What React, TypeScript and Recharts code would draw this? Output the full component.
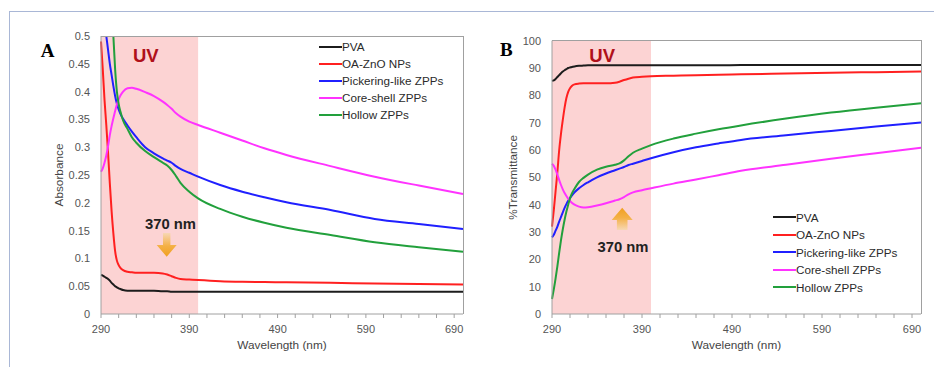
import React from 'react';
import { LineChart, Line, XAxis, YAxis, ReferenceArea, ReferenceDot, Legend, Label } from 'recharts';

// ---------- DATA ----------
const wavelengths = [290, 292, 294, 296, 298, 300, 302, 304, 306, 308, 310, 312, 315, 320, 325, 330, 340, 350, 360, 365, 370, 375, 380, 390, 400, 425, 450, 475, 500, 550, 600, 650, 700];

// Panel A: Absorbance
const absPVA = [0.070, 0.069, 0.067, 0.065, 0.063, 0.060, 0.056, 0.053, 0.050, 0.048, 0.046, 0.045, 0.043, 0.042, 0.042, 0.042, 0.042, 0.042, 0.041, 0.041, 0.040, 0.040, 0.040, 0.040, 0.040, 0.040, 0.040, 0.040, 0.040, 0.040, 0.040, 0.040, 0.040];
const absZnO = [0.49, 0.44, 0.385, 0.34, 0.29, 0.235, 0.185, 0.145, 0.113, 0.096, 0.088, 0.083, 0.079, 0.076, 0.075, 0.074, 0.074, 0.074, 0.073, 0.071, 0.068, 0.065, 0.063, 0.062, 0.061, 0.059, 0.058, 0.0575, 0.057, 0.056, 0.055, 0.054, 0.053];
const absPickering = [null, null, null, 0.5, 0.475, 0.45, 0.43, 0.41, 0.392, 0.378, 0.368, 0.36, 0.351, 0.339, 0.328, 0.318, 0.300, 0.289, 0.280, 0.276, 0.272, 0.266, 0.261, 0.254, 0.247, 0.232, 0.220, 0.210, 0.201, 0.187, 0.171, 0.162, 0.153];
const absCoreShell = [0.256, 0.262, 0.272, 0.285, 0.302, 0.322, 0.338, 0.352, 0.365, 0.377, 0.386, 0.393, 0.400, 0.406, 0.407, 0.405, 0.399, 0.392, 0.382, 0.376, 0.369, 0.361, 0.355, 0.346, 0.340, 0.326, 0.312, 0.298, 0.286, 0.266, 0.247, 0.231, 0.216];
const absHollow = [null, null, null, null, null, null, null, 0.5, 0.44, 0.40, 0.378, 0.364, 0.348, 0.333, 0.318, 0.308, 0.293, 0.282, 0.272, 0.267, 0.259, 0.248, 0.236, 0.220, 0.208, 0.189, 0.175, 0.164, 0.155, 0.142, 0.129, 0.120, 0.112];

// Panel B: %Transmittance
const transPVA = [85.3, 85.5, 86, 86.7, 87.4, 88.1, 88.7, 89.2, 89.6, 90.0, 90.2, 90.4, 90.6, 90.8, 90.9, 91.0, 91.0, 91.0, 91.0, 91.0, 91.0, 91.0, 91.0, 91.0, 91.0, 91.0, 91.0, 91.0, 91.1, 91.1, 91.1, 91.1, 91.1];
const transZnO = [32, 38, 45, 52, 60, 66, 71, 75.5, 79, 81.3, 82.6, 83.4, 84, 84.3, 84.4, 84.4, 84.4, 84.4, 84.6, 85, 85.6, 86.1, 86.5, 86.8, 87.0, 87.2, 87.4, 87.5, 87.7, 88.0, 88.3, 88.5, 88.7];
const transPickering = [28, 29, 30.5, 32, 33.8, 35.5, 37.2, 38.8, 40.2, 41.4, 42.4, 43.3, 44.5, 46, 47.2, 48.2, 50, 51.4, 52.6, 53.2, 53.8, 54.5, 55, 56, 57, 59.2, 61, 62.4, 63.7, 65.4, 67, 68.6, 70.1];
const transCoreShell = [55, 54.2, 52.8, 51, 49, 47.2, 45.6, 44.3, 43.2, 42.2, 41.4, 40.7, 40.0, 39.3, 39.0, 39.1, 39.7, 40.5, 41.5, 42.0, 42.8, 43.8, 44.5, 45.3, 46, 47.7, 49.2, 50.8, 52.4, 54.6, 56.8, 58.8, 60.8];
const transHollow = [5.5, 9, 13, 17.5, 22.5, 27, 31, 34.5, 37.5, 40, 42.3, 44, 45.8, 48.3, 49.8, 51, 52.8, 53.9, 54.6, 55.1, 56.2, 57.7, 59, 60.5, 61.8, 64.2, 66, 67.6, 69, 71.5, 73.7, 75.5, 77.1];

const seriesNames = ['PVA', 'OA-ZnO NPs', 'Pickering-like ZPPs', 'Core-shell ZPPs', 'Hollow ZPPs'];
const seriesKeys = ['pva', 'zno', 'pick', 'core', 'hollow'];
const seriesColors = ['#1c1c1c', '#ff2020', '#2020ff', '#ff33ff', '#22a03c'];

const xTicks = [290, 310, 330, 350, 370, 390, 410, 430, 450, 470, 490, 510, 530, 550, 570, 590, 610, 630, 650, 670, 690];
const xLabelTicks = [290, 390, 490, 590, 690];
const absTicks = [0, 0.05, 0.1, 0.15, 0.2, 0.25, 0.3, 0.35, 0.4, 0.45, 0.5];
const transTicks = [0, 10, 20, 30, 40, 50, 60, 70, 80, 90, 100];

const xDomain: [number, number] = [290, 700];
const uvRange = [290, 400];
const markerLabel = '370 nm';

// ---------- BUILD ----------
const buildRows = (series: (number | null)[][]) =>
  wavelengths.map((w, i) => {
    const row: any = { w };
    seriesKeys.forEach((k, j) => {
      row[k] = series[j][i];
    });
    return row;
  });

const rowsA = buildRows([absPVA, absZnO, absPickering, absCoreShell, absHollow]);
const rowsB = buildRows([transPVA, transZnO, transPickering, transCoreShell, transHollow]);

const FONT = '"Liberation Sans", Arial, Helvetica, sans-serif';
const X_AXIS_H = 46;
const CHART_H = 352;

// layout of the two panels (container coordinates)
const layoutA = { left: 0, width: 470, margin: { top: 28, right: 15, bottom: 0, left: 0 }, yAxisWidth: 93 };
const layoutB = { left: 470, width: 464, margin: { top: 32.7, right: 21, bottom: 0, left: 0 }, yAxisWidth: 74 };

const plotBox = (l: typeof layoutA) => ({
  x1: l.left + l.margin.left + l.yAxisWidth,
  x2: l.left + l.width - l.margin.right,
  y1: l.margin.top,
  y2: CHART_H - l.margin.bottom - X_AXIS_H,
});

const makeLegend = (rowH: number) => (props: any) => {
  const payload = [...(props.payload || [])].sort(
    (a: any, b: any) => seriesNames.indexOf(a.value) - seriesNames.indexOf(b.value)
  );
  return (
    <div style={{ fontFamily: FONT, fontSize: 11.7, color: '#2b2b2b' }}>
      {payload.map((p: any, i: number) => (
        <div key={i} style={{ display: 'flex', alignItems: 'center', height: rowH, whiteSpace: 'nowrap' }}>
          <span style={{ display: 'inline-block', width: 23, height: 2, background: p.color }} />
          <span>{p.value}</span>
        </div>
      ))}
    </div>
  );
};

const UVShape = (props: any) => (
  <text x={props.cx} y={props.cy} textAnchor="middle" fontFamily={FONT} fontWeight="bold" fontSize={18.5} fill="#b0101a">
    UV
  </text>
);

const ArrowDown = (props: any) => {
  const { cx, cy } = props;
  const d = `M ${cx - 3.7} ${cy - 23.7} L ${cx + 3.7} ${cy - 23.7} L ${cx + 3.7} ${cy - 11.7} L ${cx + 10} ${cy - 11.7} L ${cx} ${cy} L ${cx - 10} ${cy - 11.7} L ${cx - 3.7} ${cy - 11.7} Z`;
  return (
    <g>
      <defs>
        <linearGradient id="arrowGradA" x1="0" y1="0" x2="0" y2="1">
          <stop offset="0%" stopColor="#f7d7b4" />
          <stop offset="55%" stopColor="#f4b045" />
          <stop offset="100%" stopColor="#f0a020" />
        </linearGradient>
      </defs>
      <path d={d} fill="url(#arrowGradA)" />
      <text x={cx + 3.8} y={cy - 27.4} textAnchor="middle" fontFamily={FONT} fontWeight="bold" fontSize={14.8} fill="#222">
        {markerLabel}
      </text>
    </g>
  );
};

const ArrowUp = (props: any) => {
  const { cx, cy } = props;
  const d = `M ${cx} ${cy} L ${cx + 10.5} ${cy + 12.3} L ${cx + 5.3} ${cy + 12.3} L ${cx + 5.3} ${cy + 22.3} L ${cx - 5.3} ${cy + 22.3} L ${cx - 5.3} ${cy + 12.3} L ${cx - 10.5} ${cy + 12.3} Z`;
  return (
    <g>
      <defs>
        <linearGradient id="arrowGradB" x1="0" y1="0" x2="0" y2="1">
          <stop offset="0%" stopColor="#f0a020" />
          <stop offset="45%" stopColor="#f4b045" />
          <stop offset="100%" stopColor="#f7d7b4" />
        </linearGradient>
      </defs>
      <path d={d} fill="url(#arrowGradB)" />
      <text x={cx + 0.8} y={cy + 44} textAnchor="middle" fontFamily={FONT} fontWeight="bold" fontSize={14.8} fill="#222">
        {markerLabel}
      </text>
    </g>
  );
};

type PanelProps = {
  rows: any[];
  layout: typeof layoutA;
  yDomain: [number, number];
  yTicks: number[];
  yTitle: string;
  yTitleOffset: number;
  legendLeft: number;
  legendTop: number;
  legendRowH: number;
  uvPos: [number, number];
  arrowPos: [number, number];
  arrowShape: any;
};

function Panel(p: PanelProps) {
  return (
    <LineChart width={p.layout.width} height={CHART_H} data={p.rows} margin={p.layout.margin}>
      <ReferenceArea x1={uvRange[0]} x2={uvRange[1]} y1={p.yDomain[0]} y2={p.yDomain[1]} fill="#fcd3d3" fillOpacity={1} stroke="none" />
      <XAxis
        dataKey="w"
        type="number"
        domain={xDomain}
        ticks={xTicks}
        interval={0}
        height={X_AXIS_H}
        tickSize={4}
        tickMargin={7.5}
        stroke="#a0a0a0"
        tick={{ fill: '#555', fontSize: 11, fontFamily: FONT }}
        tickFormatter={(v: number) => (xLabelTicks.includes(v) ? String(v) : '')}
      >
        <Label value="Wavelength (nm)" position="insideBottom" offset={11} fill="#444" fontSize={11.8} fontFamily={FONT} />
      </XAxis>
      <YAxis
        type="number"
        domain={p.yDomain}
        ticks={p.yTicks}
        interval={0}
        allowDataOverflow
        width={p.layout.yAxisWidth}
        tickLine={false}
        tickSize={6}
        tickMargin={5}
        stroke="#a0a0a0"
        tick={{ fill: '#555', fontSize: 11, fontFamily: FONT }}
      >
        <Label
          value={p.yTitle}
          angle={-90}
          position="insideLeft"
          offset={p.yTitleOffset}
          fill="#444"
          fontSize={11.8}
          fontFamily={FONT}
          style={{ textAnchor: 'middle' }}
        />
      </YAxis>
      {seriesKeys.map((k, i) => (
        <Line
          key={k}
          dataKey={k}
          name={seriesNames[i]}
          stroke={seriesColors[i]}
          strokeWidth={2}
          dot={false}
          activeDot={false}
          type="monotone"
          connectNulls={false}
          isAnimationActive={false}
        />
      ))}
      <ReferenceDot x={p.uvPos[0]} y={p.uvPos[1]} shape={UVShape} />
      <ReferenceDot x={p.arrowPos[0]} y={p.arrowPos[1]} shape={p.arrowShape} />
      <Legend
        layout="vertical"
        align="center"
        verticalAlign="middle"
        content={makeLegend(p.legendRowH)}
        wrapperStyle={{ position: 'absolute', left: p.legendLeft, top: p.legendTop, width: 200, height: 'auto' }}
      />
    </LineChart>
  );
}

export default function App() {
  const boxA = plotBox(layoutA);
  const boxB = plotBox(layoutB);
  const framePath = (b: ReturnType<typeof plotBox>) => `M ${b.x1} ${b.y1} L ${b.x2} ${b.y1} L ${b.x2} ${b.y2}`;
  return (
    <div style={{ position: 'relative', width: 934, height: 359, overflow: 'hidden', background: '#fff' }}>
      <div
        style={{
          position: 'absolute',
          left: 1,
          top: 3,
          width: 960,
          height: 400,
          borderTop: '1px solid #a9b7d6',
          borderLeft: '1px solid #a9b7d6',
        }}
      />
      <div style={{ position: 'absolute', left: layoutA.left, top: 0 }}>
        <Panel
          rows={rowsA}
          layout={layoutA}
          yDomain={[0, 0.5]}
          yTicks={absTicks}
          yTitle="Absorbance"
          yTitleOffset={50.5}
          legendLeft={311}
          legendTop={30}
          legendRowH={17}
          uvPos={[340.7, 0.4538]}
          arrowPos={[364.4, 0.103]}
          arrowShape={ArrowDown}
        />
      </div>
      <div style={{ position: 'absolute', left: layoutB.left, top: 0 }}>
        <Panel
          rows={rowsB}
          layout={layoutB}
          yDomain={[0, 100]}
          yTicks={transTicks}
          yTitle="%Transmittance"
          yTitleOffset={35}
          legendLeft={295}
          legendTop={200.5}
          legendRowH={17.5}
          uvPos={[345.8, 92.3]}
          arrowPos={[368, 38.9]}
          arrowShape={ArrowUp}
        />
      </div>
      <svg width={934} height={359} style={{ position: 'absolute', left: 0, top: 0, pointerEvents: 'none' }}>
        <path d={framePath(boxA)} fill="none" stroke="#a0a0a0" strokeWidth={1} shapeRendering="crispEdges" />
        <path d={framePath(boxB)} fill="none" stroke="#a0a0a0" strokeWidth={1} shapeRendering="crispEdges" />
        <text x={32.7} y={48.7} fontFamily='"Liberation Serif", "Times New Roman", serif' fontWeight="bold" fontSize={19}>
          A
        </text>
        <text x={492} y={48} fontFamily='"Liberation Serif", "Times New Roman", serif' fontWeight="bold" fontSize={19}>
          B
        </text>
      </svg>
    </div>
  );
}
